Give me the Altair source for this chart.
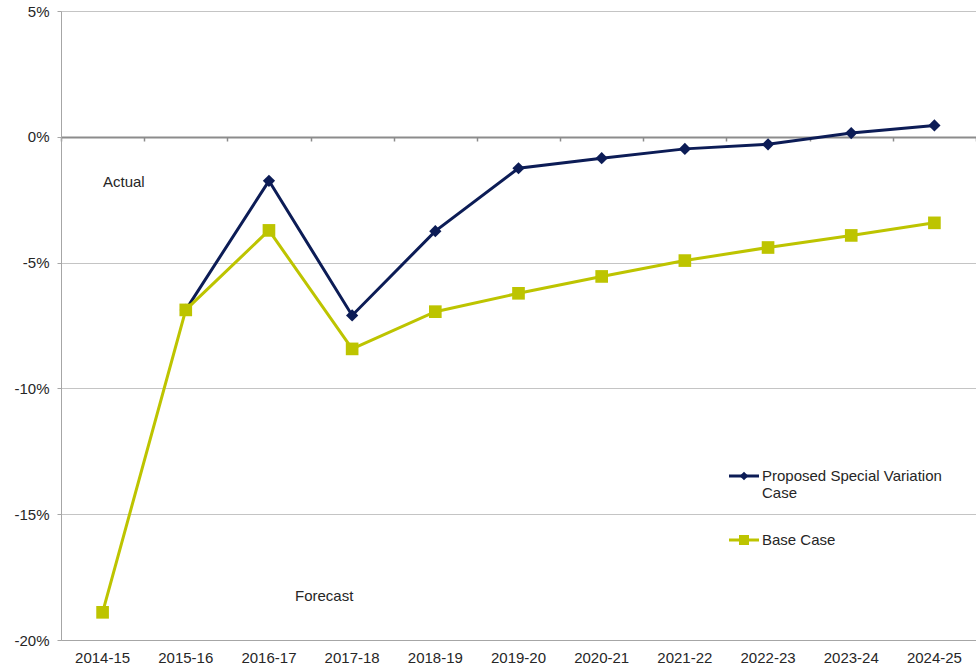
import altair as alt
import pandas as pd

years = ["2014-15", "2015-16", "2016-17", "2017-18", "2018-19", "2019-20",
         "2020-21", "2021-22", "2022-23", "2023-24", "2024-25"]
proposed = [None, -6.88, -1.75, -7.10, -3.75, -1.25, -0.85, -0.48, -0.30, 0.15, 0.45]
base = [-18.90, -6.88, -3.72, -8.43, -6.95, -6.22, -5.55, -4.92, -4.40, -3.92, -3.42]

P = "Proposed Special Variation Case"
B = "Base Case"
NAVY = "#0C1C56"
GREEN = "#BDC400"
FONT = "Liberation Sans"
TXT = "#262626"
FS = 15

rows = []
for yr, v in zip(years, proposed):
    if v is not None:
        rows.append({"year": yr, "value": v, "series": P})
for yr, v in zip(years, base):
    rows.append({"year": yr, "value": v, "series": B})
df = pd.DataFrame(rows)

W, H = 915, 629
xscale = alt.Scale(type="band", domain=years, paddingInner=0, paddingOuter=0)
yscale = alt.Scale(domain=[-20, 5], nice=False, zero=False)

yaxis = alt.Axis(title=None, values=[-20, -15, -10, -5, 0, 5], labelExpr="datum.value + '%'",
                 labelFont=FONT, labelFontSize=FS, labelColor=TXT, labelPadding=8,
                 grid=True, gridColor="#c4c4c4", gridWidth=1,
                 tickSize=4, tickColor="#a6a6a6", domainColor="#a6a6a6", domainWidth=1)

x_main = alt.X("year:N", scale=xscale, sort=years, bandPosition=0.5,
               axis=alt.Axis(title=None, orient="bottom", labelFont=FONT, labelFontSize=FS,
                             labelColor=TXT, labelAngle=0, ticks=False, labelPadding=10,
                             grid=False, domainColor="#a6a6a6", domainWidth=1))
x_none = alt.X("year:N", scale=xscale, sort=years, bandPosition=0.5, axis=None)
y_enc = alt.Y("value:Q", scale=yscale, axis=yaxis)

color = alt.Color("series:N", scale=alt.Scale(domain=[P, B], range=[NAVY, GREEN]), legend=None)

zero_axis = alt.Chart(df).mark_point(opacity=0).encode(
    x=alt.X("year:N", scale=xscale, sort=years, bandPosition=0.5,
            axis=alt.Axis(title=None, orient="bottom", labels=False, offset=-503,
                          tickBand="extent", ticks=True, tickSize=4, tickColor="#8c8c8c",
                          tickWidth=1.5, domainColor="#8c8c8c", domainWidth=2, grid=False)),
    y=y_enc,
)

lines = alt.Chart(df).mark_line(strokeWidth=3).encode(x=x_main, y=y_enc, color=color)

pts_p = alt.Chart(df).transform_filter(alt.datum.series == P).mark_point(
    shape="diamond", filled=True, size=150, opacity=1, color=NAVY
).encode(x=x_none, y=y_enc)

pts_b = alt.Chart(df).transform_filter(alt.datum.series == B).mark_point(
    shape="square", filled=True, size=160, opacity=1, color=GREEN
).encode(x=x_none, y=y_enc)

dummy = pd.DataFrame({"a": [0]})

def label(text, x, y):
    return alt.Chart(dummy).mark_text(align="left", baseline="middle", font=FONT,
                                      fontSize=FS, color=TXT).encode(
        x=alt.value(x), y=alt.value(y), text=alt.value(text))

ann_actual = label("Actual", 42, 171)
ann_fore = label("Forecast", 234, 585)

leg_rule_p = alt.Chart(dummy).mark_rule(color=NAVY, strokeWidth=3).encode(
    x=alt.value(668), x2=alt.value(698), y=alt.value(465))
leg_pt_p = alt.Chart(dummy).mark_point(shape="diamond", filled=True, size=75, opacity=1,
                                       color=NAVY).encode(x=alt.value(683), y=alt.value(465))
leg_rule_b = alt.Chart(dummy).mark_rule(color=GREEN, strokeWidth=3).encode(
    x=alt.value(668), x2=alt.value(698), y=alt.value(529))
leg_pt_b = alt.Chart(dummy).mark_point(shape="square", filled=True, size=100, opacity=1,
                                       color=GREEN).encode(x=alt.value(683), y=alt.value(529))
leg_t1 = label("Proposed Special Variation", 701, 465)
leg_t2 = label("Case", 701, 482)
leg_t3 = label("Base Case", 701, 529)

chart = alt.layer(
    zero_axis, lines, pts_p, pts_b, ann_actual, ann_fore,
    leg_rule_p, leg_pt_p, leg_rule_b, leg_pt_b, leg_t1, leg_t2, leg_t3
).resolve_axis(x="independent").properties(
    width=W, height=H,
    padding={"left": 61, "top": 11, "right": 0, "bottom": 29},
    autosize=alt.AutoSizeParams(type="none"),
).configure_view(stroke=None).configure(background="white")

chart.save("out.html", embed_options={"renderer": "svg", "actions": False})
